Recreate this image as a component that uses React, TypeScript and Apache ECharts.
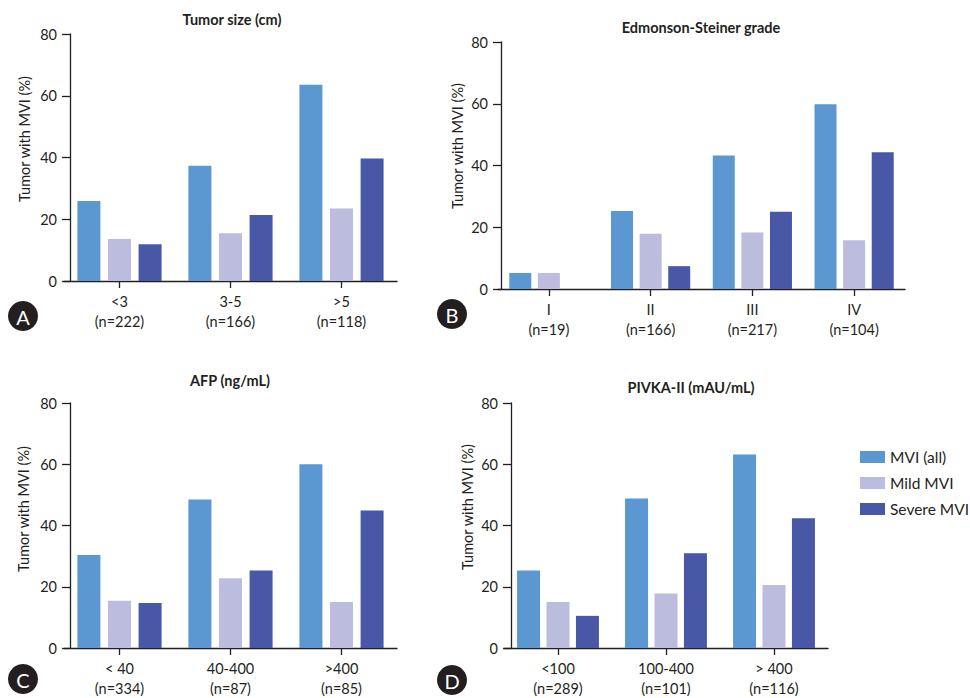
import React, { useEffect, useRef } from 'react';
import * as echarts from 'echarts';

const seriesNames = ['MVI (all)', 'Mild MVI', 'Severe MVI'];
const seriesColors = ['#5b97d0', '#bcbcde', '#4858a6'];

const yTicks = [0, 20, 40, 60, 80];

// Panel A: Tumor size
const titleA = 'Tumor size (cm)';
const catA = ['<3', '3-5', '>5'];
const nA = ['222', '166', '118'];
const mviA = [25.9, 37.3, 63.6];
const mildA = [13.6, 15.5, 23.5];
const severeA = [11.9, 21.4, 39.7];

// Panel B: Edmonson-Steiner grade
const titleB = 'Edmonson-Steiner grade';
const catB = ['I', 'II', 'III', 'IV'];
const nB = ['19', '166', '217', '104'];
const mviB = [5.2, 25.3, 43.2, 59.8];
const mildB = [5.2, 17.9, 18.3, 15.8];
const severeB = [0, 7.4, 25.0, 44.3];

// Panel C: AFP
const titleC = 'AFP (ng/mL)';
const catC = ['< 40', '40-400', '>400'];
const nC = ['334', '87', '85'];
const mviC = [30.4, 48.5, 60.0];
const mildC = [15.4, 22.8, 15.0];
const severeC = [14.7, 25.3, 44.9];

// Panel D: PIVKA-II
const titleD = 'PIVKA-II (mAU/mL)';
const catD = ['<100', '100-400', '> 400'];
const nD = ['289', '101', '116'];
const mviD = [25.3, 48.8, 63.2];
const mildD = [15.0, 17.8, 20.6];
const severeD = [10.5, 30.9, 42.4];

const yName = 'Tumor with MVI (%)';
const panelLetters = ['A', 'B', 'C', 'D'];

const FONT = 'Lato, "Open Sans", sans-serif';
const TXT = '#231f20';

const panels = [
  { title: titleA, cats: catA, ns: nA, vals: [mviA, mildA, severeA], grid: { left: 64, top: 34, width: 333, height: 247 }, yOff: -6, barW: 23, gap: '33%', titlePos: [232, 19], namePos: [24, 139], letterPos: [23, 316] },
  { title: titleB, cats: catB, ns: nB, vals: [mviB, mildB, severeB], grid: { left: 498, top: 42, width: 407, height: 247 }, yOff: -3, barW: 22, gap: '30%', titlePos: [701, 27], namePos: [457, 146], letterPos: [452, 314] },
  { title: titleC, cats: catC, ns: nC, vals: [mviC, mildC, severeC], grid: { left: 64, top: 403, width: 333, height: 247 }, yOff: -6, barW: 23, gap: '33%', titlePos: [230, 380], namePos: [23, 509], letterPos: [23, 679] },
  { title: titleD, cats: catD, ns: nD, vals: [mviD, mildD, severeD], grid: { left: 504, top: 403, width: 324, height: 247 }, yOff: -7, barW: 23, gap: '28%', titlePos: [691, 387], namePos: [467, 507], letterPos: [452, 680] },
];

export default function App() {
  const ref = useRef<HTMLDivElement>(null);
  useEffect(() => {
    if (!ref.current) return;
    const chart = echarts.init(ref.current, undefined, { renderer: 'svg' });

    const grids: any[] = [];
    const xAxes: any[] = [];
    const yAxes: any[] = [];
    const series: any[] = [];
    const graphics: any[] = [];

    panels.forEach((p, gi) => {
      grids.push({ ...p.grid, containLabel: false });
      xAxes.push({
        type: 'category',
        gridIndex: gi,
        data: p.cats.map((c, i) => `${c}\n(n=${p.ns[i]})`),
        axisLine: { lineStyle: { color: TXT, width: 1.3 } },
        axisTick: { show: true, alignWithLabel: true, length: 7, lineStyle: { color: TXT, width: 1.3 } },
        axisLabel: { color: TXT, fontFamily: FONT, fontSize: 14.5, lineHeight: 20, margin: 10, interval: 0 },
        splitLine: { show: false },
      });
      yAxes.push({
        type: 'value',
        gridIndex: gi,
        min: yTicks[0],
        max: yTicks[yTicks.length - 1],
        interval: 20,
        offset: p.yOff,
        axisLine: { show: true, lineStyle: { color: TXT, width: 1.3 } },
        axisTick: { show: true, length: 8, lineStyle: { color: TXT, width: 1.3 } },
        axisLabel: { color: TXT, fontFamily: FONT, fontSize: 14.5, margin: 13 },
        splitLine: { show: false },
      });
      p.vals.forEach((v, si) => {
        series.push({
          type: 'bar',
          name: seriesNames[si],
          xAxisIndex: gi,
          yAxisIndex: gi,
          data: v,
          barWidth: p.barW,
          barGap: p.gap,
          itemStyle: { color: seriesColors[si] },
          emphasis: { disabled: true },
        });
      });
      graphics.push({
        type: 'text',
        x: p.titlePos[0],
        y: p.titlePos[1],
        style: { text: p.title, fill: TXT, font: `bold 14.5px ${FONT}`, textAlign: 'center', textVerticalAlign: 'middle', align: 'center', verticalAlign: 'middle' },
      });
      graphics.push({
        type: 'text',
        x: p.namePos[0],
        y: p.namePos[1],
        rotation: Math.PI / 2,
        style: { text: yName, fill: TXT, font: `14.5px ${FONT}`, textAlign: 'center', textVerticalAlign: 'middle', align: 'center', verticalAlign: 'middle' },
      });
      graphics.push({
        type: 'circle',
        shape: { cx: p.letterPos[0], cy: p.letterPos[1], r: 15 },
        style: { fill: TXT },
      });
      graphics.push({
        type: 'text',
        x: p.letterPos[0],
        y: p.letterPos[1] + 1,
        style: { text: panelLetters[gi], fill: '#ffffff', font: `20px ${FONT}`, textAlign: 'center', textVerticalAlign: 'middle', align: 'center', verticalAlign: 'middle' },
      });
    });

    chart.setOption({
      animation: false,
      backgroundColor: '#ffffff',
      grid: grids,
      xAxis: xAxes,
      yAxis: yAxes,
      series,
      graphic: graphics,
      legend: {
        data: seriesNames,
        orient: 'vertical',
        left: 855,
        top: 444,
        icon: 'rect',
        itemWidth: 25,
        itemHeight: 12,
        itemGap: 10,
        selectedMode: false,
        textStyle: { color: TXT, fontFamily: FONT, fontSize: 15.5 },
      },
    });
    return () => chart.dispose();
  }, []);
  return <div ref={ref} style={{ position: 'absolute', left: 0, top: 0, width: 970, height: 698 }} />;
}
